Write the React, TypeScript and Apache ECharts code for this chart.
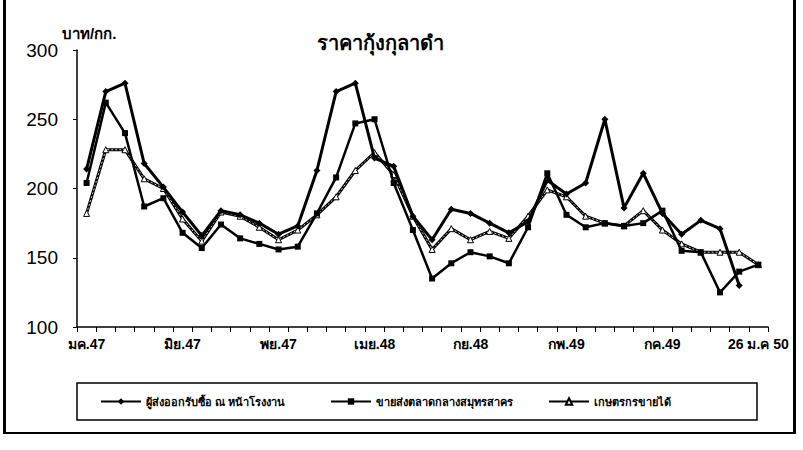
import React, { useEffect, useRef } from "react";
import * as echarts from "echarts";

const categories = [
  "มค.47", "กพ.47", "มีค.47", "เมย.47", "พค.47", "มิย.47", "กค.47", "สค.47", "กย.47", "ตค.47",
  "พย.47", "ธค.47", "มค.48", "กพ.48", "มีค.48", "เมย.48", "พค.48", "มิย.48", "กค.48", "สค.48",
  "กย.48", "ตค.48", "พย.48", "ธค.48", "มค.49", "กพ.49", "มีค.49", "เมย.49", "พค.49", "มิย.49",
  "กค.49", "สค.49", "กย.49", "ตค.49", "พย.49", "26 ม.ค 50",
];

const exporterPrice = [
  214, 270, 276, 218, 201, 183, 166, 184, 181, 175,
  167, 173, 213, 270, 276, 222, 216, 180, 163, 185,
  182, 175, 168, 176, 206, 196, 204, 250, 186, 211,
  182, 167, 177, 171, 130, null,
];

const wholesalePrice = [
  204, 262, 240, 187, 193, 168, 157, 174, 164, 160,
  156, 158, 182, 208, 247, 250, 204, 170, 135, 146,
  154, 151, 146, 172, 211, 181, 172, 175, 173, 175,
  184, 155, 154, 125, 140, 145,
];

const farmerPrice = [
  182, 228, 228, 207, 200, 178, 162, 183, 180, 172,
  163, 170, 181, 194, 213, 226, 210, 180, 156, 171,
  163, 169, 164, 180, 199, 194, 180, 175, 173, 184,
  170, 160, 154, 154, 154, 145,
];

const seriesNames = [
  "ผู้ส่งออกรับซื้อ ณ หน้าโรงงาน",
  "ขายส่งตลาดกลางสมุทรสาคร",
  "เกษตรกรขายได้",
];

const FONT = "'Liberation Sans', Arial, 'Noto Sans', sans-serif";

export default function App() {
  const ref = useRef<HTMLDivElement>(null);

  useEffect(() => {
    if (!ref.current) return;
    const chart = echarts.init(ref.current, undefined, { renderer: "svg" });
    const legendCommon = {
      top: 396,
      itemWidth: 40,
      itemHeight: 8,
      itemGap: 2,
      padding: 0,
      textStyle: { fontFamily: FONT, fontSize: 11, fontWeight: "bold" as const, color: "#000" },
    };
    chart.setOption({
      animation: false,
      backgroundColor: "#fff",
      title: {
        text: "ราคากุ้งกุลาดำ",
        left: 375,
        top: 28,
        textAlign: "center",
        textStyle: { fontFamily: FONT, fontSize: 20, fontWeight: "bold", color: "#000" },
      },
      grid: { left: 77, right: 35, top: 50, bottom: 123, containLabel: false },
      legend: [
        { ...legendCommon, left: 100, data: [seriesNames[0]] },
        { ...legendCommon, left: 330, data: [seriesNames[1]] },
        { ...legendCommon, left: 548, data: [seriesNames[2]] },
      ],
      xAxis: {
        type: "category",
        data: categories,
        boundaryGap: true,
        axisLine: { lineStyle: { color: "#000", width: 1.5 } },
        axisTick: { show: true, interval: 0, length: 5, inside: false, lineStyle: { color: "#000" } },
        axisLabel: {
          interval: 4,
          color: "#000",
          fontFamily: FONT,
          fontSize: 14,
          fontWeight: "bold",
          margin: 10,
        },
      },
      yAxis: {
        type: "value",
        min: 100,
        max: 300,
        interval: 50,
        name: "บาท/กก.",
        nameLocation: "end",
        nameGap: 8,
        nameTextStyle: {
          fontFamily: FONT,
          fontSize: 15,
          fontWeight: "bold",
          color: "#000",
          align: "left",
          padding: [0, 0, 0, -15],
        },
        splitLine: { show: false },
        axisLine: { show: true, lineStyle: { color: "#000", width: 1.5 } },
        axisTick: { show: true, length: 4, lineStyle: { color: "#000" } },
        axisLabel: { color: "#000", fontFamily: FONT, fontSize: 19, margin: 19 },
      },
      series: [
        {
          name: seriesNames[0],
          type: "line",
          data: exporterPrice,
          symbol: "diamond",
          symbolSize: 7,
          lineStyle: { color: "#000", width: 3 },
          itemStyle: { color: "#000" },
          z: 5,
        },
        {
          name: seriesNames[1],
          type: "line",
          data: wholesalePrice,
          symbol: "rect",
          symbolSize: 6,
          lineStyle: { color: "#000", width: 2.5 },
          itemStyle: { color: "#000" },
          z: 4,
        },
        {
          name: seriesNames[2],
          type: "line",
          data: farmerPrice,
          symbol: "triangle",
          symbolSize: 6,
          lineStyle: { color: "#000", width: 3 },
          itemStyle: { color: "#fff", borderColor: "#000", borderWidth: 1 },
          z: 3,
        },
        {
          name: "farmer-inner",
          type: "line",
          data: farmerPrice,
          symbol: "none",
          lineStyle: { color: "#fff", width: 0.8, type: [2, 2] },
          z: 3.5,
          silent: true,
        },
      ],
      graphic: [
        {
          type: "rect",
          shape: { x: 3, y: 0, width: 3, height: 434 },
          style: { fill: "#000" },
          silent: true,
        },
        {
          type: "rect",
          shape: { x: 793, y: 0, width: 3, height: 434 },
          style: { fill: "#000" },
          silent: true,
        },
        {
          type: "rect",
          shape: { x: 3, y: 432, width: 793, height: 2 },
          style: { fill: "#000" },
          silent: true,
        },
        {
          type: "rect",
          shape: { x: 77, y: 383, width: 680, height: 37 },
          style: { fill: "none", stroke: "#000", lineWidth: 1.5 },
          silent: true,
        },
      ],
    });
    return () => chart.dispose();
  }, []);

  return (
    <div
      ref={ref}
      style={{ position: "fixed", left: 0, top: 0, width: 803, height: 450, background: "#fff" }}
    />
  );
}
